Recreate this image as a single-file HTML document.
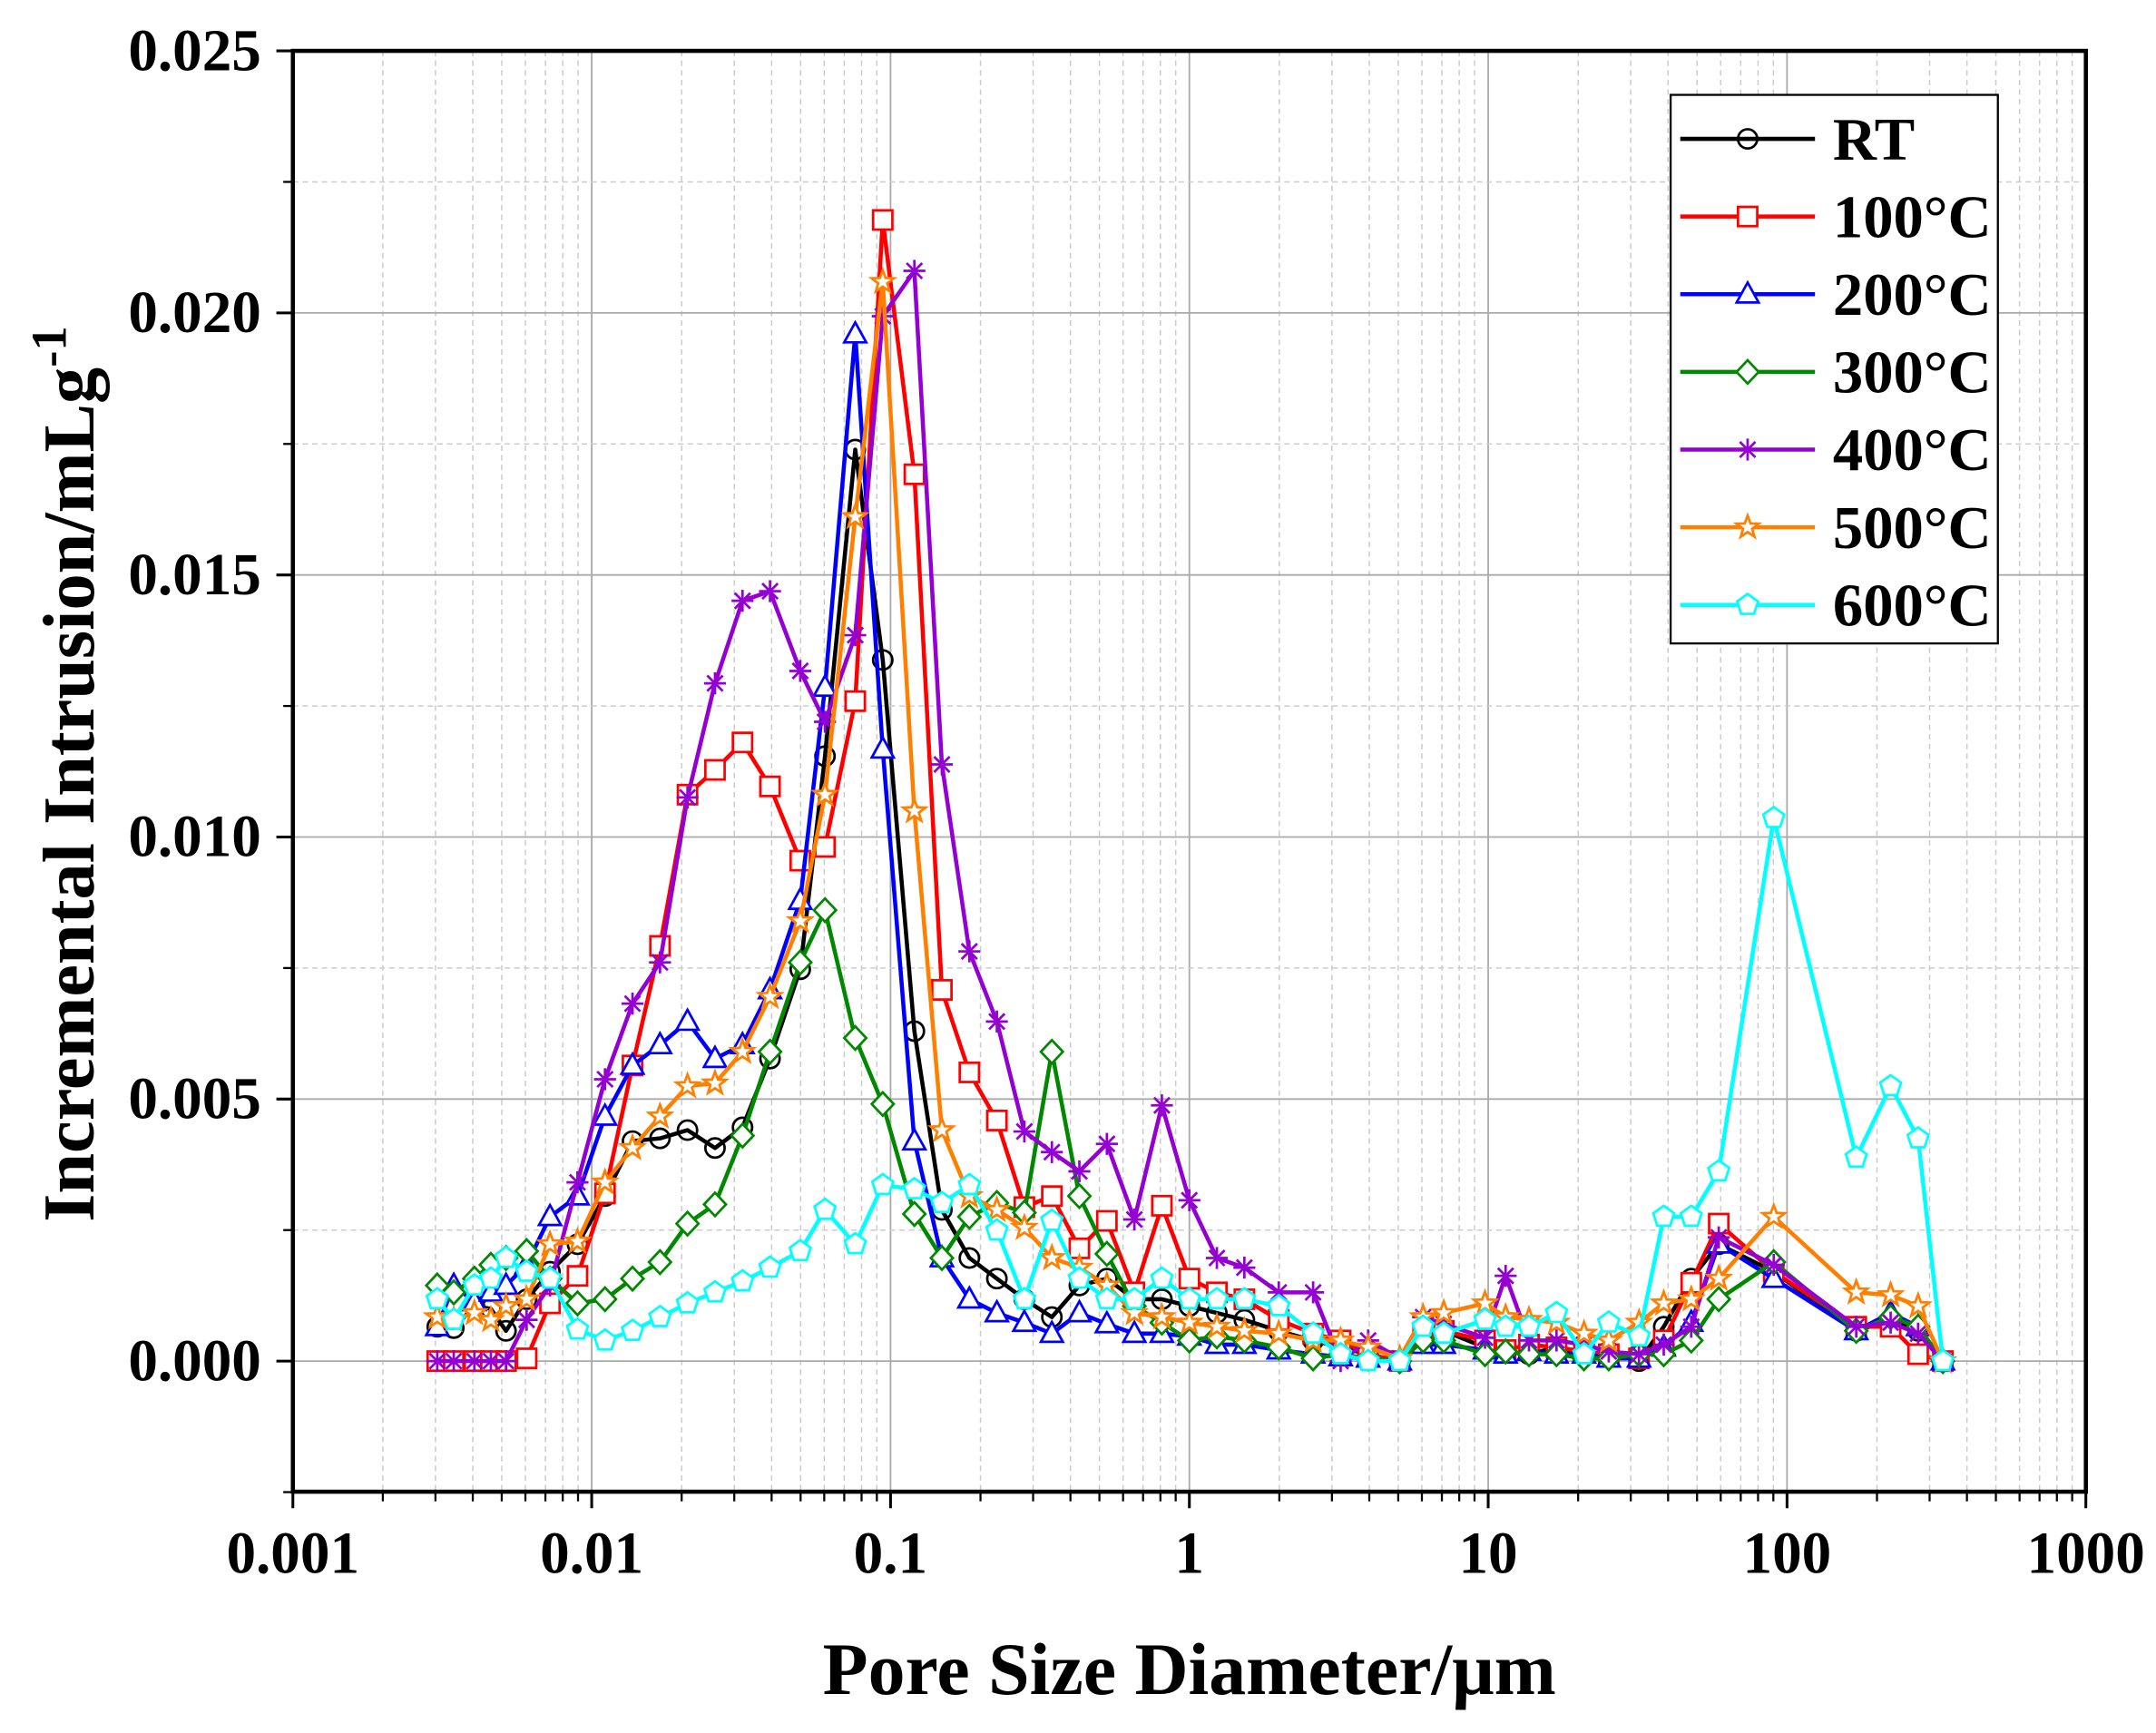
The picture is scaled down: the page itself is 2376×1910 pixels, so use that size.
<!DOCTYPE html>
<html><head><meta charset="utf-8"><style>html,body{margin:0;padding:0;background:#fff}svg{display:block}text{font-family:"Liberation Serif",serif;font-weight:bold}</style></head>
<body>
<svg id="s" width="2376" height="1910" viewBox="0 0 1568 1260.5" preserveAspectRatio="none" xmlns="http://www.w3.org/2000/svg">
<rect width="1568" height="1261" fill="#fff"/>
<g id="grid"></g>
<g id="series"></g>
<rect x="213" y="37" width="1304" height="1048" fill="none" stroke="#000" stroke-width="3"/>
<g id="ticks"></g>
<text x="865" y="1232" font-size="54" text-anchor="middle">Pore Size Diameter/μm</text>
<text transform="translate(68,563) rotate(-90)" font-size="53" text-anchor="middle">Incremental Intrusion/mLg<tspan dy="-20" font-size="36">-1</tspan></text>
<g id="legend"><rect x="1215" y="69" width="238" height="399" fill="#fff" stroke="#000" stroke-width="1.5"/></g>
</svg>
<script>
const NS="http://www.w3.org/2000/svg";
function el(p,t,a,txt){const e=document.createElementNS(NS,t);for(const k in a)e.setAttribute(k,a[k]);if(txt!=null)e.textContent=txt;p.appendChild(e);return e;}
const g=document.getElementById('grid'),tk=document.getElementById('ticks');
const L=213,R=1517,T=37,B=1085,dec=217.33,y0=990,yv=38120;
for(let d=0;d<6;d++){for(let m=1;m<10;m++){const x=L+dec*(d+Math.log10(m));if(m==1){if(d>0)el(g,'line',{x1:x,y1:T,x2:x,y2:B,stroke:'#aaa','stroke-width':1.2});}else el(g,'line',{x1:x,y1:T,x2:x,y2:B,stroke:'#ccc','stroke-width':1,'stroke-dasharray':'4,3'});
 if(m>1)el(tk,'line',{x1:x,y1:B,x2:x,y2:B+7,stroke:'#000','stroke-width':1.5});}}
const labs=['0.001','0.01','0.1','1','10','100','1000'];
labs.forEach((s,i)=>{const x=L+dec*i;el(tk,'line',{x1:x,y1:B,x2:x,y2:B+12,stroke:'#000','stroke-width':2});el(tk,'text',{x:x,y:1144,'font-size':43,'text-anchor':'middle'},s);});
for(let i=-1;i<=10;i++){const v=i*0.0025,y=y0-v*yv;if(i%2==0){if(i<10)el(g,'line',{x1:L,y1:y,x2:R,y2:y,stroke:'#aaa','stroke-width':1.2});el(tk,'line',{x1:L-12,y1:y,x2:L,y2:y,stroke:'#000','stroke-width':2});el(tk,'text',{x:190,y:y+14,'font-size':43,'text-anchor':'end'},v.toFixed(3));}else{el(g,'line',{x1:L,y1:y,x2:R,y2:y,stroke:'#ccc','stroke-width':1,'stroke-dasharray':'4,3'});el(tk,'line',{x1:L-7,y1:y,x2:L,y2:y,stroke:'#000','stroke-width':1.5});}}
const X=[318,330,345,357,368,383,400,420,440,460,480,500,520,540,560,582,600,622,642,665,685,705,725,745,765,785,805,825,845,865,885,905,930,955,975,995,1018,1035,1050,1080,1095,1112,1132,1152,1170,1192,1210,1230,1250,1290,1350,1375,1395,1413];
const S=[
['RT','#000','o',[965,966,950,952,968,945,925,905,870,830,828,822,835,820,770,705,550,327,480,750,880,915,930,945,958,935,930,945,945,950,955,960,968,975,980,985,990,968,968,980,983,985,980,985,983,990,965,930,905,925,968,960,968,990]],
['100°C','#f00','s',[990,990,990,990,990,988,948,928,868,775,688,578,560,540,572,626,616,510,160,345,720,780,815,878,870,908,888,940,877,930,940,945,960,970,975,985,990,970,968,975,982,978,980,983,985,988,975,933,890,925,965,965,985,990]],
['200°C','#00f','t',[965,935,947,940,935,920,885,870,812,775,760,743,770,760,720,655,500,243,545,830,915,945,955,962,970,955,963,970,970,972,978,978,982,985,987,988,990,978,978,982,985,983,985,985,988,988,980,962,905,930,968,955,965,990]],
['300°C','#080','d',[935,940,930,920,915,910,930,948,945,930,918,890,876,826,765,700,662,755,803,883,915,885,875,882,765,870,912,950,962,975,972,975,980,988,985,988,990,975,975,985,983,985,985,988,988,985,985,975,945,918,968,958,965,990]],
['400°C','#9400d3','x',[990,990,990,990,990,960,935,860,785,730,700,580,497,437,430,488,525,462,230,197,556,692,743,823,838,852,832,887,804,873,915,922,940,940,990,975,988,958,963,973,928,975,975,978,983,985,978,965,900,920,965,962,970,990]],
['500°C','#ff8000','*',[958,960,955,960,950,945,905,903,860,835,812,790,788,765,725,670,578,376,205,590,822,870,880,893,915,922,935,955,958,962,965,968,970,975,975,980,988,958,955,948,958,960,962,970,975,962,948,945,930,885,940,942,950,990]],
['600°C','#0ff','p',[945,960,935,930,915,925,930,967,975,968,958,948,940,932,922,910,880,905,862,865,875,862,895,945,888,930,945,945,930,945,945,945,950,970,985,990,990,965,970,960,965,965,955,985,962,972,885,885,852,595,842,790,828,990]]];
const sg=document.getElementById('series'),lg=document.getElementById('legend');
function mk(p,t,x,y,c){const a={fill:'none',stroke:c,'stroke-width':1.8};const r=7;
 if(t=='o')el(p,'circle',Object.assign({cx:x,cy:y,r:r,fill:'#fff'},a));
 else if(t=='s')el(p,'rect',Object.assign({x:x-r,y:y-r,width:2*r,height:2*r},a,{fill:'#fff'}));
 else if(t=='t')el(p,'polygon',Object.assign({points:`${x},${y-8.5} ${x+8},${y+6} ${x-8},${y+6}`},a,{fill:'#fff'}));
 else if(t=='d')el(p,'polygon',Object.assign({points:`${x},${y-8.5} ${x+8},${y} ${x},${y+8.5} ${x-8},${y}`},a,{fill:'#fff'}));
 else if(t=='p'){let pts=[];for(let i=0;i<5;i++){const an=-Math.PI/2+i*2*Math.PI/5;pts.push((x+8*Math.cos(an)).toFixed(1)+','+(y+8*Math.sin(an)).toFixed(1));}el(p,'polygon',Object.assign({points:pts.join(' ')},a,{fill:'#fff'}));}
 else if(t=='*'){let pts=[];for(let i=0;i<10;i++){const rr=i%2?3.5:8.5,an=-Math.PI/2+i*Math.PI/5;pts.push((x+rr*Math.cos(an)).toFixed(1)+','+(y+rr*Math.sin(an)).toFixed(1));}el(p,'polygon',Object.assign({points:pts.join(' ')},a,{fill:'#fff'}));}
 else if(t=='x'){for(let i=0;i<4;i++){const an=i*Math.PI/4;el(p,'line',{x1:x-8*Math.cos(an),y1:y-8*Math.sin(an),x2:x+8*Math.cos(an),y2:y+8*Math.sin(an),stroke:c,'stroke-width':1.8});}}
}
S.forEach((s,k)=>{const gg=el(sg,'g',{});el(gg,'polyline',{points:X.map((x,i)=>x+','+s[3][i]).join(' '),fill:'none',stroke:s[1],'stroke-width':3,'stroke-linejoin':'round'});
 X.forEach((x,i)=>mk(gg,s[2],x,s[3][i],s[1]));
 const ly=101+k*56.5;el(lg,'line',{x1:1222,y1:ly,x2:1320,y2:ly,stroke:s[1],'stroke-width':3});mk(lg,s[2],1271,ly,s[1]);
 el(lg,'text',{x:1333,y:ly+15,'font-size':44},s[0]);});
</script>
</body></html>
